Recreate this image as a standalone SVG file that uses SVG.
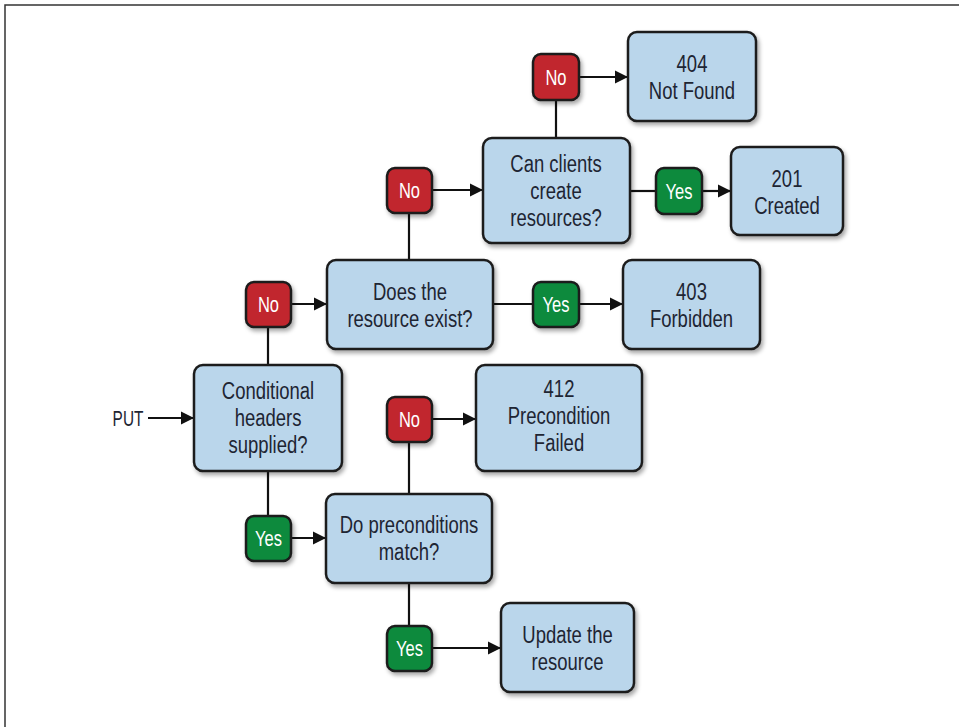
<svg xmlns="http://www.w3.org/2000/svg" width="959" height="727" viewBox="0 0 959 727">
<style>
.box{fill:#bad6eb;stroke:#1b1b1b;stroke-width:2.5;filter:url(#sh)}
.no{fill:#c1272d;stroke:#1b1b1b;stroke-width:2.5;filter:url(#sh)}
.yes{fill:#0b8a3e;stroke:#1b1b1b;stroke-width:2.5;filter:url(#sh)}
.t{font-family:"Liberation Sans",Arial,sans-serif;font-size:24px;fill:#1e2533;text-anchor:middle}
.b{font-family:"Liberation Sans",Arial,sans-serif;font-size:22px;fill:#ffffff;text-anchor:middle}
.c{fill:none;stroke:#111;stroke-width:2.2}
.a{fill:none;stroke:#111;stroke-width:2.2;marker-end:url(#arr)}
</style>
<defs>
<filter id="sh" x="-20%" y="-20%" width="140%" height="140%">
<feDropShadow dx="2" dy="3" stdDeviation="2" flood-color="#000" flood-opacity="0.35"/>
</filter>
<marker id="arr" viewBox="0 0 10 10" refX="10" refY="5" markerWidth="6" markerHeight="6" markerUnits="strokeWidth" orient="auto">
<path d="M0,0 L10,5 L0,10 z" fill="#111"/>
</marker>
</defs>
<rect width="959" height="727" fill="#fff"/>
<path d="M5,727 V5 H959" fill="none" stroke="#333" stroke-width="1.5"/>

<g id="connectors">
<text class="t" transform="translate(128,426) scale(0.7,1)" style="font-size:22px">PUT</text>
<path class="a" d="M148,418 H194"/>
<path class="c" d="M268,365 V327"/>
<path class="a" d="M291,304 H327"/>
<path class="c" d="M409,260 V213"/>
<path class="a" d="M432,190 H483"/>
<path class="c" d="M556,138 V100"/>
<path class="a" d="M579,77 H628"/>
<path class="c" d="M630,191 H656"/>
<path class="a" d="M702,191 H731"/>
<path class="c" d="M493,304 H533"/>
<path class="a" d="M579,304 H623"/>
<path class="c" d="M268,472 V517"/>
<path class="a" d="M291,538 H326"/>
<path class="c" d="M409,494 V442"/>
<path class="a" d="M432,419 H476"/>
<path class="c" d="M409,583 V626"/>
<path class="a" d="M432,648 H501"/>
</g>

<g id="n404"><rect class="box" x="628" y="32" width="128" height="89" rx="9"/>
<text class="t" transform="translate(692,72) scale(0.77,1)">404</text><text class="t" transform="translate(692,99) scale(0.77,1)">Not Found</text></g>
<g id="nCan"><rect class="box" x="483" y="138" width="147" height="105" rx="9"/>
<text class="t" transform="translate(556,172) scale(0.77,1)">Can clients</text><text class="t" transform="translate(556,199) scale(0.77,1)">create</text><text class="t" transform="translate(556,226) scale(0.77,1)">resources?</text></g>
<g id="n201"><rect class="box" x="731" y="147" width="112" height="88" rx="9"/>
<text class="t" transform="translate(787,187) scale(0.77,1)">201</text><text class="t" transform="translate(787,214) scale(0.77,1)">Created</text></g>
<g id="nDoes"><rect class="box" x="327" y="260" width="166" height="89" rx="9"/>
<text class="t" transform="translate(410,300) scale(0.77,1)">Does the</text><text class="t" transform="translate(410,327) scale(0.77,1)">resource exist?</text></g>
<g id="n403"><rect class="box" x="623" y="260" width="137" height="89" rx="9"/>
<text class="t" transform="translate(691.5,300) scale(0.77,1)">403</text><text class="t" transform="translate(691.5,327) scale(0.77,1)">Forbidden</text></g>
<g id="n412"><rect class="box" x="476" y="365" width="166" height="106" rx="9"/>
<text class="t" transform="translate(559,397) scale(0.77,1)">412</text><text class="t" transform="translate(559,424) scale(0.77,1)">Precondition</text><text class="t" transform="translate(559,451) scale(0.77,1)">Failed</text></g>
<g id="nCond"><rect class="box" x="194" y="365" width="148" height="106" rx="9"/>
<text class="t" transform="translate(268,399) scale(0.77,1)">Conditional</text><text class="t" transform="translate(268,426) scale(0.77,1)">headers</text><text class="t" transform="translate(268,453) scale(0.77,1)">supplied?</text></g>
<g id="nDo"><rect class="box" x="326" y="494" width="166" height="89" rx="9"/>
<text class="t" transform="translate(409,533) scale(0.77,1)">Do preconditions</text><text class="t" transform="translate(409,560) scale(0.77,1)">match?</text></g>
<g id="nUpd"><rect class="box" x="501" y="603" width="133" height="89" rx="9"/>
<text class="t" transform="translate(567.5,643) scale(0.77,1)">Update the</text><text class="t" transform="translate(567.5,670) scale(0.77,1)">resource</text></g>

<g id="bNo1"><rect class="no" x="533" y="54" width="46" height="46" rx="8"/><text class="b" transform="translate(556,85) scale(0.75,1)">No</text></g>
<g id="bYes1"><rect class="yes" x="656" y="168" width="46" height="46" rx="8"/><text class="b" transform="translate(679,199) scale(0.75,1)">Yes</text></g>
<g id="bNo2"><rect class="no" x="387" y="168" width="45" height="45" rx="8"/><text class="b" transform="translate(409.5,198) scale(0.75,1)">No</text></g>
<g id="bNo3"><rect class="no" x="246" y="282" width="45" height="45" rx="8"/><text class="b" transform="translate(268.5,312) scale(0.75,1)">No</text></g>
<g id="bYes2"><rect class="yes" x="533" y="282" width="46" height="45" rx="8"/><text class="b" transform="translate(556,312) scale(0.75,1)">Yes</text></g>
<g id="bNo4"><rect class="no" x="387" y="397" width="45" height="45" rx="8"/><text class="b" transform="translate(409.5,427) scale(0.75,1)">No</text></g>
<g id="bYes3"><rect class="yes" x="246" y="516" width="45" height="45" rx="8"/><text class="b" transform="translate(268.5,546) scale(0.75,1)">Yes</text></g>
<g id="bYes4"><rect class="yes" x="387" y="626" width="45" height="45" rx="8"/><text class="b" transform="translate(409.5,656) scale(0.75,1)">Yes</text></g>
</svg>
